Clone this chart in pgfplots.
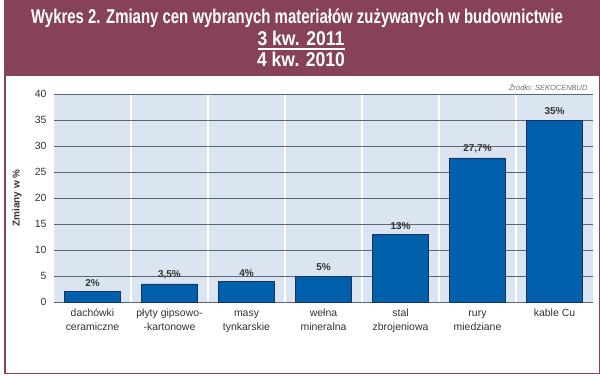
\documentclass[border=0pt]{standalone}
\usepackage{fontspec}
\setmainfont{Liberation Sans}
\usepackage{graphicx}
\usepackage{pgfplots}
\pgfplotsset{compat=1.18}
\definecolor{maroon}{RGB}{135,66,88}
\definecolor{bgblue}{RGB}{219,229,241}
\definecolor{gridgray}{RGB}{95,102,115}
\definecolor{barblue}{RGB}{0,96,172}
\definecolor{baredge}{RGB}{25,50,95}
\definecolor{labelgray}{RGB}{50,50,50}
\begin{document}
\begin{tikzpicture}[x=1bp,y=1bp]
\path (0,0) rectangle (600,380);
\fill[maroon] (4,305) rectangle (600,380);
\draw[maroon, line width=1.5bp] (4.75,6.75) rectangle (599.25,305);
\node[white, font=\fontsize{20}{22}\selectfont\bfseries] at (297,362) {\scalebox{0.75}[1]{Wykres 2. Zmiany cen wybranych materiałów zużywanych w budownictwie}};
\node[white, font=\fontsize{20}{22}\selectfont\bfseries] at (301,341.5) {\scalebox{0.88}[1]{3 kw. 2011}};
\draw[white, line width=1.3bp] (258,331) -- (345,331);
\node[white, font=\fontsize{20}{22}\selectfont\bfseries] at (301,320.5) {\scalebox{0.88}[1]{4 kw. 2010}};
\node[anchor=east, text={rgb,255:red,110;green,110;blue,110}, font=\fontsize{7.5}{9}\selectfont\itshape] at (591,293) {Źródło: SEKOCENBUD};
\node[rotate=90, font=\fontsize{10}{12}\selectfont\bfseries, text=labelgray] at (17,182) {Zmiany w \%};
\begin{axis}[
  scale only axis, width=539bp, height=208bp,
  at={(54bp,78bp)}, anchor=south west,
  xmin=-0.5, xmax=6.5, ymin=0, ymax=40,
  axis line style={draw=none},
  axis background/.style={fill=bgblue},
  ytick={0,5,...,40},
  ymajorgrids,
  major grid style={gridgray, line width=0.9bp},
  xtick={0,...,6},
  xticklabels={{\strut dachówki\\\strut ceramiczne},{\strut płyty gipsowo-\\\strut -kartonowe},{\strut masy\\\strut tynkarskie},{\strut wełna\\\strut mineralna},{\strut stal\\\strut zbrojeniowa},{\strut rury\\\strut miedziane},{\strut kable Cu}},
  minor xtick={0.5,1.5,2.5,3.5,4.5,5.5},
  xminorgrids,
  minor grid style={white, line width=1.6bp},
  major tick length=0pt, minor tick length=0pt,
  tick label style={font=\fontsize{10.5}{13.5}\selectfont, text=labelgray},
  xticklabel style={align=center, anchor=north, yshift=-2bp},
  yticklabel style={xshift=-4bp},
  /pgf/number format/assume math mode=true,
  clip=false,
  nodes near coords style={font=\fontsize{10}{12}\selectfont\bfseries, text=labelgray, yshift=1.5bp},
]
\addplot[ybar, bar width=0.73, fill=barblue, draw=baredge, line width=0.6bp,
  nodes near coords, point meta=explicit symbolic]
  coordinates {(0,2)[2\%] (1,3.5)[3,5\%] (2,4)[4\%] (3,5)[5\%] (4,13)[13\%] (5,27.7)[27,7\%] (6,35)[35\%]};
\end{axis}
\end{tikzpicture}
\end{document}
